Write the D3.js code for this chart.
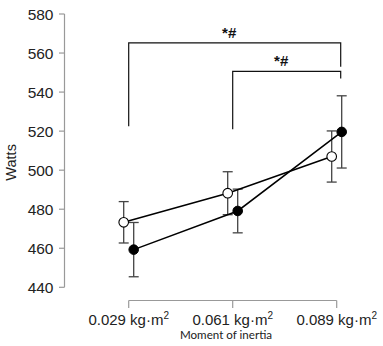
<!DOCTYPE html>
<html>
<head>
<meta charset="utf-8">
<script src="https://cdn.jsdelivr.net/npm/d3@7"></script>
<style>
  body { margin: 0; background: #fff; }
  svg { display: block; }
</style>
</head>
<body>
<div id="chart"></div>
<script>
// 数据
const categories = ["0.029", "0.061", "0.089"];
const openMeans = [473.3, 488.2, 507.0];
const openSD = [10.6, 11.0, 13.1];
const filledMeans = [459.3, 479.1, 519.6];
const filledSD = [13.9, 11.2, 18.5];
const yTicks = [440, 460, 480, 500, 520, 540, 560, 580];
// brackets: from category, to category, top level, left foot, right foot
const brackets = [
  { from: "0.029", to: "0.089", top: 565.2, leftEnd: 522.5, rightEnd: 553.0, label: "*#" },
  { from: "0.061", to: "0.089", top: 550.6, leftEnd: 521.0, rightEnd: 547.0, label: "*#" }
];

const width = 383, height = 346;

var svg = d3.select("#chart").append("svg")
  .attr("width", width)
  .attr("height", height);

var x = d3.scalePoint()
  .domain(categories)
  .range([128.7, 336.7]);

var y = d3.scaleLinear()
  .domain([440, 580])
  .range([287.3, 14]);

const off = 5;
const axisColor = "#999";

// y轴
svg.append("line")
  .attr("x1", 64.5).attr("x2", 64.5)
  .attr("y1", y(580)).attr("y2", y(440))
  .attr("stroke", axisColor).attr("stroke-width", 1.2);

var yt = svg.selectAll(".ytick").data(yTicks).enter().append("g")
  .attr("transform", d => "translate(0," + y(d) + ")");
yt.append("line")
  .attr("x1", 59).attr("x2", 64.5)
  .attr("stroke", axisColor).attr("stroke-width", 1.2);
yt.append("text")
  .attr("x", 53.5).attr("dy", "0.36em")
  .attr("text-anchor", "end")
  .attr("font-family", "Liberation Sans, Arial, sans-serif")
  .attr("font-size", 15.5)
  .attr("fill", "#222")
  .text(d => d);

svg.append("text")
  .attr("transform", "translate(16," + y(504) + ") rotate(-90)")
  .attr("text-anchor", "middle")
  .attr("font-family", "Liberation Sans, Arial, sans-serif")
  .attr("font-size", 14.5)
  .attr("fill", "#222")
  .text("Watts");

// x轴
const xAxisY = 300.5;
svg.append("line")
  .attr("x1", x(categories[0])).attr("x2", x(categories[2]))
  .attr("y1", xAxisY).attr("y2", xAxisY)
  .attr("stroke", axisColor).attr("stroke-width", 1.2);

var xt = svg.selectAll(".xtick").data(categories).enter().append("g")
  .attr("transform", d => "translate(" + x(d) + ",0)");
xt.append("line")
  .attr("y1", xAxisY).attr("y2", xAxisY + 7.5)
  .attr("stroke", axisColor).attr("stroke-width", 1.2);
var lab = xt.append("text")
  .attr("y", 324.5)
  .attr("text-anchor", "middle")
  .attr("font-family", "Liberation Sans, Arial, sans-serif")
  .attr("font-size", 15)
  .attr("fill", "#222");
lab.append("tspan").text(d => d + " kg\u00b7m");
lab.append("tspan").attr("dy", -6).attr("font-size", 10).text("2");

svg.append("text")
  .attr("x", 226).attr("y", 339)
  .attr("text-anchor", "middle")
  .attr("font-family", "Lato, sans-serif")
  .attr("font-size", 11.6)
  .attr("fill", "#222")
  .text("Moment of inertia");

// 显著性括号
brackets.forEach(function(b) {
  const x1 = x(b.from), x2 = x(b.to) + 4;
  svg.append("path")
    .attr("d", "M" + x1 + "," + y(b.leftEnd) + "V" + y(b.top) + "H" + x2 + "V" + y(b.rightEnd))
    .attr("fill", "none")
    .attr("stroke", "#111")
    .attr("stroke-width", 1.2);
  svg.append("text")
    .attr("x", (x1 + x2) / 2 - 5.5)
    .attr("y", y(b.top) - 5)
    .attr("text-anchor", "middle")
    .attr("font-family", "Liberation Sans, Arial, sans-serif")
    .attr("font-size", 15)
    .attr("font-weight", "bold")
    .attr("fill", "#111")
    .text(b.label);
});

// 误差线
function errorBars(means, sds, dx) {
  var g = svg.append("g");
  categories.forEach(function(c, i) {
    const cx = x(c) + dx;
    g.append("line")
      .attr("x1", cx).attr("x2", cx)
      .attr("y1", y(means[i] + sds[i])).attr("y2", y(means[i] - sds[i]))
      .attr("stroke", "#444").attr("stroke-width", 1.3);
    [means[i] + sds[i], means[i] - sds[i]].forEach(function(v) {
      g.append("line")
        .attr("x1", cx - 5).attr("x2", cx + 5)
        .attr("y1", y(v)).attr("y2", y(v))
        .attr("stroke", "#444").attr("stroke-width", 1.3);
    });
  });
}
errorBars(openMeans, openSD, -off);
errorBars(filledMeans, filledSD, off);

// 折线
var line = d3.line();
svg.append("path")
  .attr("d", line(categories.map((c, i) => [x(c) - off, y(openMeans[i])])))
  .attr("fill", "none").attr("stroke", "#000").attr("stroke-width", 1.5);
svg.append("path")
  .attr("d", line(categories.map((c, i) => [x(c) + off, y(filledMeans[i])])))
  .attr("fill", "none").attr("stroke", "#000").attr("stroke-width", 1.5);

// 数据点
svg.selectAll(".open").data(openMeans).enter().append("circle")
  .attr("cx", (d, i) => x(categories[i]) - off)
  .attr("cy", d => y(d))
  .attr("r", 4.8)
  .attr("fill", "#fff").attr("stroke", "#000").attr("stroke-width", 1.1);
svg.selectAll(".filled").data(filledMeans).enter().append("circle")
  .attr("cx", (d, i) => x(categories[i]) + off)
  .attr("cy", d => y(d))
  .attr("r", 4.8)
  .attr("fill", "#000").attr("stroke", "#000").attr("stroke-width", 1);
</script>
</body>
</html>
